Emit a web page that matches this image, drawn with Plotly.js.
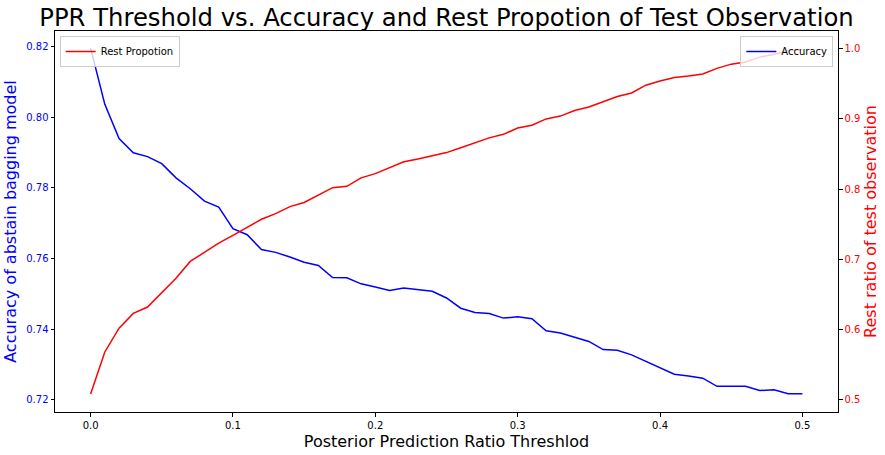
<!DOCTYPE html>
<html>
<head>
<meta charset="utf-8">
<script src="https://cdn.plot.ly/plotly-3.0.1.min.js"></script>
<style>html,body{margin:0;padding:0;background:#fff;}#chart{width:885px;height:455px;}</style>
</head>
<body>
<div id="chart"></div>
<script>
// Thresholds 0.00 .. 0.50
const thresholds = [0.00,0.01,0.02,0.03,0.04,0.05,0.06,0.07,0.08,0.09,
  0.10,0.11,0.12,0.13,0.14,0.15,0.16,0.17,0.18,0.19,
  0.20,0.21,0.22,0.23,0.24,0.25,0.26,0.27,0.28,0.29,
  0.30,0.31,0.32,0.33,0.34,0.35,0.36,0.37,0.38,0.39,
  0.40,0.41,0.42,0.43,0.44,0.45,0.46,0.47,0.48,0.49,0.50];

const accuracy = [0.8195,0.8036,0.7939,0.7899,0.7888,0.7868,0.7828,0.7797,0.7762,0.7745,
  0.7684,0.7667,0.7625,0.7617,0.7604,0.7589,0.7580,0.7546,0.7545,0.7528,
  0.7519,0.7509,0.7516,0.7512,0.7507,0.7488,0.7459,0.7447,0.7444,0.7431,
  0.7435,0.7429,0.7395,0.7389,0.7378,0.7365,0.7342,0.7340,0.7327,0.7308,
  0.7291,0.7272,0.7267,0.7261,0.7238,0.7238,0.7238,0.7226,0.7228,0.7217,0.7217];

const restProportion = [0.508,0.568,0.602,0.623,0.632,0.652,0.673,0.697,0.710,0.723,
  0.734,0.745,0.757,0.765,0.775,0.781,0.791,0.802,0.804,0.816,
  0.822,0.830,0.839,0.843,0.848,0.852,0.859,0.866,0.873,0.878,
  0.887,0.891,0.900,0.904,0.912,0.917,0.924,0.932,0.937,0.948,
  0.954,0.959,0.961,0.964,0.972,0.978,0.981,0.988,0.992,0.997,0.999];

const leftTicks = [0.72,0.74,0.76,0.78,0.80,0.82];
const rightTicks = [0.5,0.6,0.7,0.8,0.9,1.0];
const xTicks = [0.0,0.1,0.2,0.3,0.4,0.5];

const FONT = 'DejaVu Sans, sans-serif';

const traces = [
  {x: thresholds, y: accuracy, type: 'scatter', mode: 'lines', name: 'Accuracy',
   line: {color: '#0000ff', width: 1.5}, yaxis: 'y', legend: 'legend2'},
  {x: thresholds, y: restProportion, type: 'scatter', mode: 'lines', name: 'Rest Propotion',
   line: {color: '#ff0000', width: 1.5}, yaxis: 'y2', legend: 'legend'}
];

const layout = {
  width: 885, height: 455,
  margin: {l: 55, r: 47, t: 31, b: 43, pad: 0},
  paper_bgcolor: '#fff', plot_bgcolor: '#fff',
  font: {family: FONT, size: 10, color: '#000'},
  title: {text: 'PPR Threshold vs. Accuracy and Rest Propotion of Test Observation',
    font: {family: FONT, size: 24.3, color: '#000'},
    x: 0.5045, xref: 'container', xanchor: 'center', y: 0.962, yref: 'container', yanchor: 'middle'},
  xaxis: {range: [-0.025, 0.525], tickvals: xTicks, tickformat: '.1f',
    showgrid: false, zeroline: false, showline: true, linecolor: '#000', linewidth: 1, mirror: true,
    ticks: 'outside', ticklen: 3.5, tickcolor: '#000',
    tickfont: {family: FONT, size: 10, color: '#000'},
    title: {text: 'Posterior Prediction Ratio Threshlod', font: {family: FONT, size: 16, color: '#000'}, standoff: 6}},
  yaxis: {range: [0.71652, 0.82436], tickvals: leftTicks, tickformat: '.2f',
    showgrid: false, zeroline: false, showline: true, linecolor: '#000', linewidth: 1,
    ticks: 'outside', ticklen: 3.5, tickcolor: '#000',
    tickfont: {family: FONT, size: 10, color: '#0000ff'},
    title: {text: 'Accuracy of abstain bagging model', font: {family: FONT, size: 16, color: '#0000ff'}, standoff: 5}},
  yaxis2: {range: [0.4825, 1.0252], tickvals: rightTicks, tickformat: '.1f',
    overlaying: 'y', side: 'right',
    showgrid: false, zeroline: false, showline: true, linecolor: '#000', linewidth: 1,
    ticks: 'outside', ticklen: 3.5, tickcolor: '#000',
    tickfont: {family: FONT, size: 10, color: '#ff0000'},
    title: {text: 'Rest ratio of test observation', font: {family: FONT, size: 16, color: '#ff0000'}, standoff: 5}},
  showlegend: true,
  legend: {x: 0.006, y: 0.987, xanchor: 'left', yanchor: 'top', xref: 'paper', yref: 'paper',
    bgcolor: 'rgba(255,255,255,0.8)', bordercolor: '#cccccc', borderwidth: 1,
    font: {family: FONT, size: 10, color: '#000'}, itemwidth: 30, tracegroupgap: 0},
  legend2: {x: 0.994, y: 0.987, xanchor: 'right', yanchor: 'top', xref: 'paper', yref: 'paper',
    bgcolor: 'rgba(255,255,255,0.8)', bordercolor: '#cccccc', borderwidth: 1,
    font: {family: FONT, size: 10, color: '#000'}, itemwidth: 30, tracegroupgap: 0}
};

Plotly.newPlot('chart', traces, layout, {displayModeBar: false, staticPlot: true});
</script>
</body>
</html>
